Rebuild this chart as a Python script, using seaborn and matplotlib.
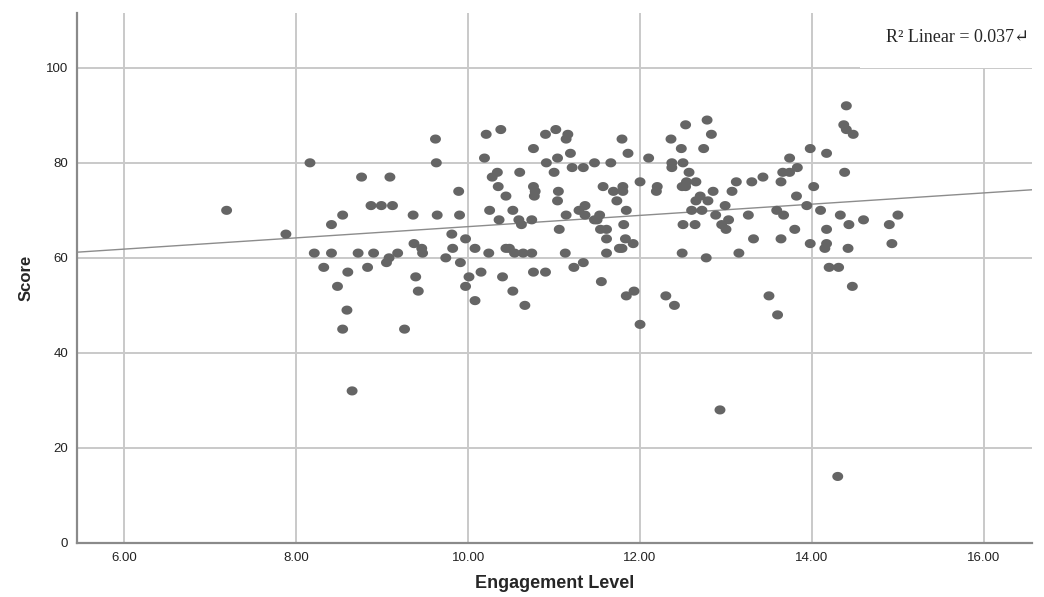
import numpy as np
import pandas as pd
import seaborn as sns
import matplotlib.pyplot as plt
from matplotlib.path import Path
from matplotlib.patches import Rectangle

# values
engagement = [
    8.16, 7.19, 7.88, 8.76, 9.09, 8.87, 8.99, 9.12, 8.54, 8.41, 8.21, 8.41, 8.72, 8.90,
    9.08, 9.05, 9.18, 8.32, 8.60, 8.83, 8.48, 8.59, 8.54, 8.65,
    9.62, 9.63, 9.89, 9.36, 9.64, 9.90, 9.81, 9.97, 9.37, 9.46, 9.47, 9.82, 9.74, 9.91,
    10.01, 9.97, 9.39, 9.42, 10.08, 9.26, 10.08, 10.24, 10.15, 10.40, 10.52, 10.66, 10.44,
    10.48, 10.54, 10.64, 10.74, 10.76, 10.90, 11.13, 11.23, 10.21, 10.38, 10.19, 10.34,
    10.28, 10.35, 10.44, 10.60, 10.76, 10.76, 10.78, 10.77, 10.25, 10.36, 10.52, 10.59,
    10.62, 10.74, 10.90, 11.02, 11.16, 11.14, 10.91, 11.04, 11.19, 11.00, 11.21, 11.05,
    11.04, 11.14, 11.06, 11.29,
    11.34, 11.47, 11.66, 11.79, 11.86, 12.10, 11.57, 11.69, 11.80, 11.80, 11.73, 11.84,
    12.00, 12.20, 12.19, 11.36, 11.36, 11.47, 11.53, 11.50, 11.54, 11.61, 11.61, 11.81,
    11.83, 11.92, 11.76, 11.79, 11.61, 11.34, 11.55, 11.84, 11.93, 12.00, 12.30, 12.40,
    12.36, 12.53, 12.78, 12.83, 12.74, 12.48, 12.37, 12.37, 12.50, 12.57, 12.49, 12.54,
    12.53, 12.65, 12.85, 12.70, 12.65, 12.79, 12.60, 12.72, 12.99, 13.07, 13.12, 12.88,
    13.03, 12.95, 13.00, 12.50, 12.64, 12.49, 12.77, 13.15,
    13.30, 13.43, 13.26, 13.32, 13.50, 13.60, 13.59, 13.67, 13.64, 13.80, 13.82, 13.64,
    13.66, 13.74, 13.83, 13.74, 13.98, 14.17, 14.02, 13.94, 14.10, 13.98, 14.17, 14.17,
    14.15, 14.20, 14.31, 14.47, 14.33, 14.43, 14.42, 14.60, 14.38, 14.40, 14.37, 14.40,
    14.48, 14.90, 15.00, 14.93, 12.93, 14.30,
]
score = [
    80, 70, 65, 77, 77, 71, 71, 71, 69, 67, 61, 61, 61, 61,
    60, 59, 61, 58, 57, 58, 54, 49, 45, 32,
    85, 80, 74, 69, 69, 69, 65, 64, 63, 62, 61, 62, 60, 59,
    56, 54, 56, 53, 51, 45, 62, 61, 57, 56, 53, 50, 62,
    62, 61, 61, 61, 57, 57, 61, 58, 86, 87, 81, 78,
    77, 75, 73, 78, 83, 75, 74, 73, 70, 68, 70, 68,
    67, 68, 86, 87, 86, 85, 80, 81, 82, 78, 79, 74,
    72, 69, 66, 70,
    79, 80, 80, 85, 82, 81, 75, 74, 75, 74, 72, 70,
    76, 75, 74, 71, 69, 68, 69, 68, 66, 66, 64, 67,
    64, 63, 62, 62, 61, 59, 55, 52, 53, 46, 52, 50,
    85, 88, 89, 86, 83, 83, 80, 79, 80, 78, 75, 76,
    75, 76, 74, 73, 72, 72, 70, 70, 71, 74, 76, 69,
    68, 67, 66, 67, 67, 61, 60, 61,
    76, 77, 69, 64, 52, 48, 70, 69, 64, 66, 73, 76,
    78, 78, 79, 81, 83, 82, 75, 71, 70, 63, 66, 63,
    62, 58, 58, 54, 69, 67, 62, 68, 78, 92, 88, 87,
    86, 67, 69, 63, 28, 14,
]

df = pd.DataFrame({'Engagement Level': engagement, 'Score': score})

sns.set_style('white')
plt.rcParams['font.family'] = ['Liberation Sans', 'DejaVu Sans']

fig = plt.figure(figsize=(10.44, 5.97), dpi=100)
ax = fig.add_axes([0.0738, 0.0905, 0.9147, 0.8875])

# limits first so the fit line runs across the whole axis
xlim = (5.45, 16.56)
ylim = (0, 111.5)
ax.set_xlim(*xlim)
ax.set_ylim(*ylim)

# slightly flattened dot like the SPSS marker
t = np.linspace(0, 2 * np.pi, 40)
oval = Path(np.column_stack([1.2 * np.cos(t), np.sin(t)]))

sns.regplot(data=df, x='Engagement Level', y='Score', ax=ax, ci=None, truncate=False,
            marker=oval,
            scatter_kws={'s': 62, 'color': '#656565', 'edgecolor': 'none', 'alpha': 1, 'zorder': 3},
            line_kws={'color': '#8c8c8c', 'linewidth': 1.0, 'zorder': 2})

ax.set_xlim(*xlim)
ax.set_ylim(*ylim)
ax.set_xticks([6, 8, 10, 12, 14, 16])
ax.set_xticklabels(['6.00', '8.00', '10.00', '12.00', '14.00', '16.00'])
ax.set_yticks([0, 20, 40, 60, 80, 100])
ax.grid(True, color='#c9c9c9', linewidth=1.4)
ax.set_axisbelow(True)
ax.tick_params(length=0, labelsize=9.5, labelcolor='#222222', pad=6.5)

for side in ['top', 'right']:
    ax.spines[side].set_visible(False)
for side in ['left', 'bottom']:
    ax.spines[side].set_color('#8a8a8a')
    ax.spines[side].set_linewidth(1.6)

ax.set_xlabel('Engagement Level', fontsize=13, fontweight='bold', labelpad=8)
ax.set_ylabel('Score', fontsize=12, fontweight='bold', labelpad=9)

# white label box over the top right corner
box = Rectangle((860 / 1044, 1 - 68 / 597), 184 / 1044, 68 / 597, transform=fig.transFigure,
                facecolor='white', edgecolor='none', zorder=5)
fig.add_artist(box)
fig.text(958 / 1044, 1 - 37 / 597, 'R² Linear = 0.037\u21b5', ha='center', va='center',
         fontsize=13, family=['Liberation Serif', 'DejaVu Serif', 'DejaVu Sans'], zorder=6)

fig.savefig('out.png', dpi=100)
